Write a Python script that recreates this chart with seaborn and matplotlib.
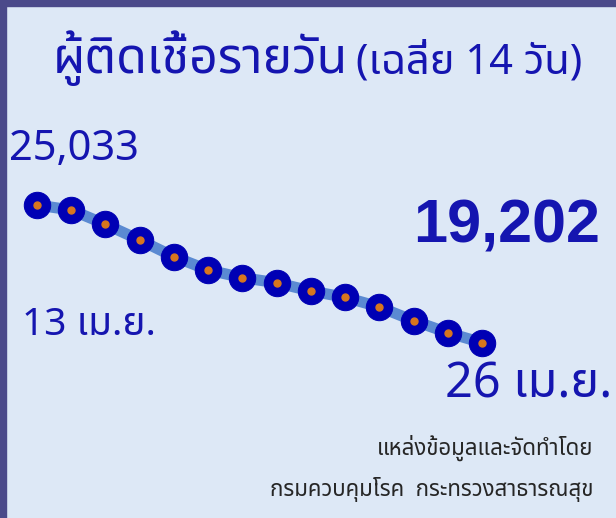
import matplotlib
matplotlib.use("Agg")
import matplotlib.pyplot as plt
import seaborn as sns
import pandas as pd
from matplotlib import font_manager

# daily new cases, 14-day window (13 - 26 Apr)
days = list(range(13, 27))
cases = [25033, 24820, 24215, 23550, 22845, 22280, 21955,
         21740, 21390, 21125, 20715, 20135, 19625, 19202]

title_main = "ผู้ติดเชื้อรายวัน"
title_sub = "(เฉลี่ย 14 วัน)"
start_label = "13 เม.ย."
end_label = "26 เม.ย."
source_1 = "แหล่งข้อมูลและจัดทำโดย"
source_2 = "กรมควบคุมโรค  กระทรวงสาธารณสุข"

df = pd.DataFrame({"day": days, "cases": cases})

sns.set_theme(style="white")
avail = {f.name for f in font_manager.fontManager.ttflist}
thai_fams = [f for f in ["Noto Sans Thai", "Noto Sans Thai Looped", "Tahoma", "Loma",
                         "Garuda", "Norasi", "Kinnari", "Sawasdee", "Waree",
                         "TlwgTypo", "Umpush", "Noto Sans"] if f in avail]
fams = thai_fams + ["DejaVu Sans"]
plt.rcParams["font.family"] = fams
narrow = [f for f in ["Liberation Sans Narrow", "Liberation Sans"] if f in avail] + ["DejaVu Sans"]

bg = "#dde8f6"
ink = "#1515b0"
fig = plt.figure(figsize=(6.16, 5.18), dpi=100, facecolor=bg)

W, H = 616, 518
ax = fig.add_axes([37 / W, (H - 342.7) / H, 445 / W, 137.7 / H])
ax.set_facecolor("none")
sns.lineplot(data=df, x="day", y="cases", ax=ax, color="#5b8ad2", linewidth=8,
             marker="o", markersize=19, markerfacecolor="#0000b4",
             markeredgecolor="#0000b4", clip_on=False)
ax.plot(df["day"], df["cases"], "o", color="#d8761e", markersize=5, clip_on=False)
ax.set_xlim(days[0], days[-1])
ax.set_ylim(cases[-1], cases[0])
ax.axis("off")

# frame on left and top
fig.patches.append(plt.Rectangle((0, 0), 6 / W, 1, transform=fig.transFigure,
                                 color="#4b4a8a", zorder=10))
fig.patches.append(plt.Rectangle((0, 1 - 6 / H), 1, 6 / H, transform=fig.transFigure,
                                 color="#4b4a8a", zorder=10))


def px(x, y):
    return x / W, 1 - y / H


fig.text(*px(53, 73), title_main, fontsize=36, color=ink, ha="left", va="baseline")
fig.text(*px(356, 73), title_sub, fontsize=30, color=ink, ha="left", va="baseline")
fig.text(*px(9, 160), f"{cases[0]:,}", fontsize=30, color=ink, ha="left", va="baseline")
fig.text(*px(600, 242), f"{cases[-1]:,}", fontsize=44, color=ink, fontweight="bold",
         family=narrow, ha="right", va="baseline")
fig.text(*px(22, 335), start_label, fontsize=28, color=ink, ha="left", va="baseline")
fig.text(*px(612, 398), end_label, fontsize=35, color=ink, ha="right", va="baseline")
fig.text(*px(593, 455), source_1, fontsize=16, color="#262626", ha="right", va="baseline")
fig.text(*px(593, 496), source_2, fontsize=16, color="#262626", ha="right", va="baseline")

fig.savefig("out.png", dpi=100, facecolor=bg)
